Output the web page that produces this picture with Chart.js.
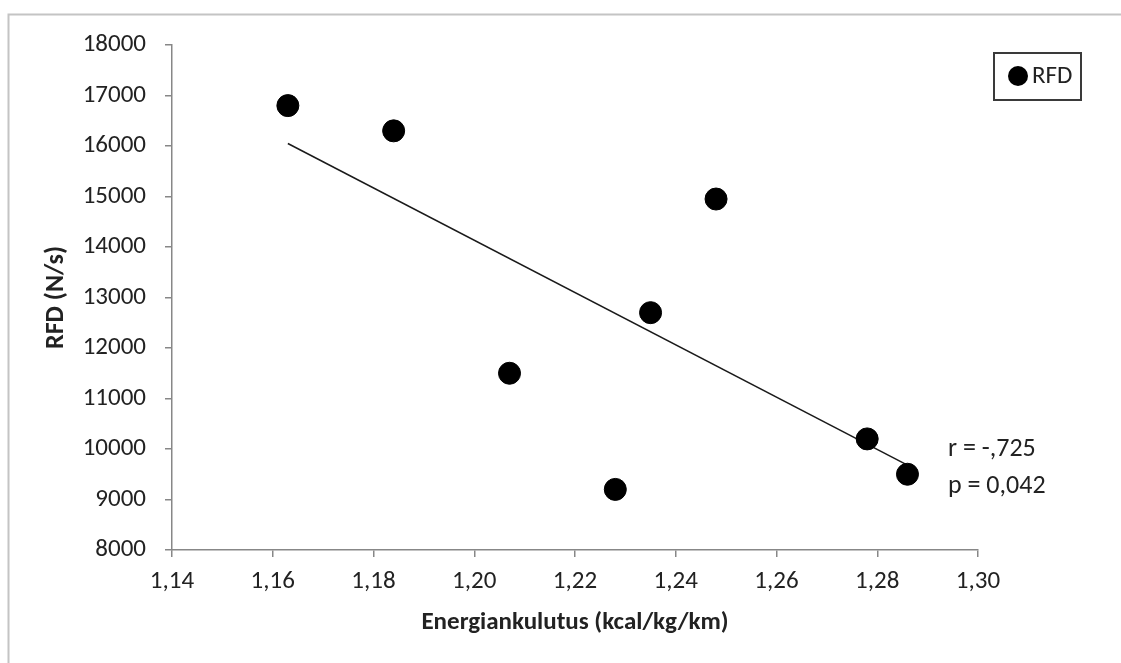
<!DOCTYPE html>
<html>
<head>
<meta charset="utf-8">
<script src="https://cdn.jsdelivr.net/npm/chart.js@4"></script>
<style>
  html, body { margin: 0; padding: 0; background: #fff; }
  #wrap { width: 1121px; height: 663px; position: relative; }
</style>
</head>
<body>
<div id="wrap"><canvas id="rfdChart" width="1121" height="663"></canvas></div>
<script>
// Energy cost vs RFD scatter with linear trend

const energyValues = [1.163, 1.184, 1.207, 1.228, 1.235, 1.248, 1.278, 1.286];
const rfdValues = [16800, 16300, 11500, 9200, 12700, 14950, 10200, 9500];

// trend line end points
const trendX = [1.163, 1.286];
const trendY = [16050, 9680];

const xTicks = [1.14, 1.16, 1.18, 1.20, 1.22, 1.24, 1.26, 1.28, 1.30];
const yTicks = [8000, 9000, 10000, 11000, 12000, 13000, 14000, 15000, 16000, 17000, 18000];

const statLines = ['r = -,725', 'p = 0,042'];
const seriesName = 'RFD';

const FONT = "Carlito, 'Open Sans', sans-serif";
const TEXT = '#222';
const AXIS = '#878787';

const extras = {
    id: 'extras',
    beforeDraw(chart) {
        const ctx = chart.ctx;
        ctx.save();
        // outer frame (runs off the right and bottom edge)
        ctx.strokeStyle = '#c4c4c4';
        ctx.lineWidth = 2;
        ctx.beginPath();
        ctx.moveTo(8.5, 700);
        ctx.lineTo(8.5, 14.5);
        ctx.lineTo(1130, 14.5);
        ctx.stroke();
        ctx.restore();
    },
    afterDraw(chart) {
        const ctx = chart.ctx;
        ctx.save();
        // legend box
        ctx.strokeStyle = '#3a3a3a';
        ctx.lineWidth = 2;
        ctx.strokeRect(994, 53, 87, 47);
        ctx.fillStyle = '#000';
        ctx.beginPath();
        ctx.arc(1018, 76, 10, 0, Math.PI * 2);
        ctx.fill();
        ctx.fillStyle = TEXT;
        ctx.font = '25px ' + FONT;
        ctx.textBaseline = 'middle';
        ctx.fillText(seriesName, 1032, 77);

        // correlation text
        ctx.font = '26px ' + FONT;
        ctx.fillText(statLines[0], 948, 449);
        ctx.fillText(statLines[1], 948, 486);
        ctx.restore();
    }
};

const ctx = document.getElementById('rfdChart').getContext('2d');

new Chart(ctx, {
    type: 'scatter',
    data: {
        datasets: [
            {
                label: seriesName,
                data: energyValues.map((x, i) => ({ x: x, y: rfdValues[i] })),
                backgroundColor: '#000',
                borderColor: '#000',
                pointRadius: 11,
                pointHoverRadius: 11,
                order: 1
            },
            {
                label: 'trend',
                type: 'line',
                data: trendX.map((x, i) => ({ x: x, y: trendY[i] })),
                borderColor: '#1a1a1a',
                borderWidth: 1.5,
                pointRadius: 0,
                fill: false,
                order: 2
            }
        ]
    },
    options: {
        responsive: false,
        animation: false,
        layout: { padding: { left: 0, top: 45, right: 143, bottom: 0 } },
        plugins: {
            legend: { display: false },
            tooltip: { enabled: false }
        },
        scales: {
            x: {
                type: 'linear',
                min: 1.14,
                max: 1.30,
                afterBuildTicks: s => { s.ticks = xTicks.map(v => ({ value: v })); },
                afterFit: s => { s.height = 113; },
                ticks: {
                    color: TEXT,
                    font: { family: FONT, size: 25 },
                    padding: 10,
                    maxRotation: 0,
                    callback: v => v.toFixed(2).replace('.', ',')
                },
                grid: { drawOnChartArea: false, drawTicks: true, tickLength: 7, color: AXIS, lineWidth: 1.5 },
                border: { display: true, color: AXIS, width: 1.5 },
                title: {
                    display: true,
                    text: 'Energiankulutus (kcal/kg/km)',
                    color: TEXT,
                    font: { family: FONT, size: 25, weight: 'bold' },
                    padding: { top: 0, bottom: 25 }
                }
            },
            y: {
                min: 8000,
                max: 18000,
                afterBuildTicks: s => { s.ticks = yTicks.map(v => ({ value: v })); },
                afterFit: s => { s.width = 172; },
                ticks: {
                    color: TEXT,
                    font: { family: FONT, size: 25 },
                    padding: 19,
                    callback: v => String(v)
                },
                grid: { drawOnChartArea: false, drawTicks: true, tickLength: 7, color: AXIS, lineWidth: 1.5 },
                border: { display: true, color: AXIS, width: 1.5 },
                title: {
                    display: true,
                    text: 'RFD (N/s)',
                    color: TEXT,
                    font: { family: FONT, size: 26, weight: 'bold' },
                    padding: { top: 41, bottom: 0 }
                }
            }
        }
    },
    plugins: [extras]
});
</script>
</body>
</html>
